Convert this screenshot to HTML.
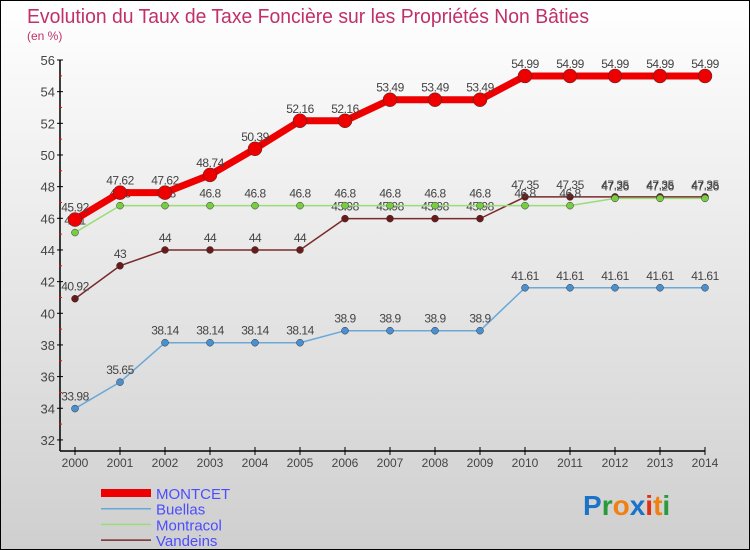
<!DOCTYPE html>
<html><head><meta charset="utf-8"><style>
body{margin:0}
#c{width:748px;height:548px;border:1px solid #000;background:linear-gradient(#ffffff,#cfcfcf);position:relative;font-family:"Liberation Sans",sans-serif;overflow:hidden}
</style></head><body>
<div id="c">
<svg id="s" width="748" height="548" xmlns="http://www.w3.org/2000/svg">
<text x="26" y="22" font-size="20" fill="#c0306a" textLength="562" lengthAdjust="spacingAndGlyphs">Evolution du Taux de Taxe Foncière sur les Propriétés Non Bâties</text>
<text x="26" y="39" font-size="12" fill="#c0306a">(en %)</text>
<g id="axes"></g><g id="series"></g><g id="legend"></g>
<text x="582" y="514" font-size="28" font-weight="bold"><tspan fill="#1a73c9">P</tspan><tspan fill="#2a9a3a">r</tspan><tspan fill="#f08010">o</tspan><tspan fill="#1a73c9">x</tspan><tspan fill="#e03010">i</tspan><tspan fill="#f08010">t</tspan><tspan fill="#2a9a3a">i</tspan></text>
</svg></div>
<script>
const years=[2000,2001,2002,2003,2004,2005,2006,2007,2008,2009,2010,2011,2012,2013,2014];
const montcet=[45.92,47.62,47.62,48.74,50.39,52.16,52.16,53.49,53.49,53.49,54.99,54.99,54.99,54.99,54.99];
const buellas=[33.98,35.65,38.14,38.14,38.14,38.14,38.9,38.9,38.9,38.9,41.61,41.61,41.61,41.61,41.61];
const montracol=[45.1,46.8,46.8,46.8,46.8,46.8,46.8,46.8,46.8,46.8,46.8,46.8,47.26,47.26,47.26];
const vandeins=[40.92,43,44,44,44,44,45.98,45.98,45.98,45.98,47.35,47.35,47.35,47.35,47.35];
const yTicks=[32,34,36,38,40,42,44,46,48,50,52,54,56];
const NS='http://www.w3.org/2000/svg';
const X=i=>74+i*45, Y=v=>59+(56-v)*15.83;
function mk(t,a,p,txt){const e=document.createElementNS(NS,t);for(const k in a)e.setAttribute(k,a[k]);if(txt!==undefined)e.textContent=txt;p.appendChild(e);return e;}
const ax=document.getElementById('axes');
let e=mk('line',{x1:59,y1:Y(56),x2:59,y2:450,stroke:'#000','stroke-width':1.5},ax);


e=mk('line',{x1:59,y1:450,x2:X(14),y2:450,stroke:'#000','stroke-width':1.5},ax);


yTicks.forEach(v=>{mk('line',{x1:56,x2:62,y1:Y(v),y2:Y(v),stroke:'#000'},ax);
 if(v<56)mk('line',{x1:58,x2:61,y1:Y(v+1),y2:Y(v+1),stroke:'#f00'},ax);
 e=mk('text',{x:54,y:Y(v)+5,'font-size':13,fill:'#444','text-anchor':'end'},ax,v);
 
 });
years.forEach((yr,i)=>{mk('line',{x1:X(i),x2:X(i),y1:446,y2:454,stroke:'#000'},ax);
 e=mk('text',{x:X(i),y:466,'font-size':12,fill:'#444','text-anchor':'middle'},ax,yr);
 
 });
const sg=document.getElementById('series');
function draw(name,vals,col,dot,w,r){
 const g=mk('g',{},sg);
 
 
 const l=mk('polyline',{points:vals.map((v,i)=>X(i)+','+Y(v)).join(' '),fill:'none',stroke:col,'stroke-width':w,'stroke-linejoin':'round'},g);
 
 
 vals.forEach((v,i)=>{const c=mk('circle',{cx:X(i),cy:Y(v),r:r,fill:dot,stroke:'#333','stroke-width':0.5},g);
  
  
  const t=mk('text',{x:X(i),y:Y(v)-8,'font-size':12,fill:'#444','text-anchor':'middle','letter-spacing':'-0.5'},g,v);
  
  });
}
draw('buellas',buellas,'#6aa8d8','#4a90d0',1.5,3.5);
draw('vandeins',vandeins,'#7a2a2a','#6a1a1a',1.5,3.5);
draw('montracol',montracol,'#99dd77','#77cc44',1.5,3.5);
draw('montcet',montcet,'#ee0000','#ee0000',7,7);
const lg=document.getElementById('legend');
const names=['MONTCET','Buellas','Montracol','Vandeins'],cols=['#ee0000','#6aa8d8','#99dd77','#7a2a2a'],ws=[8,1.5,1.5,1.5];
names.forEach((n,i)=>{const y=492+i*15.7;
 mk('line',{x1:100,x2:150,y1:y,y2:y,stroke:cols[i],'stroke-width':ws[i]},lg);
 e=mk('text',{x:155,y:y+6,'font-size':15,fill:'#4d4dff'},lg,n);
 
 });
</script>
</body></html>
